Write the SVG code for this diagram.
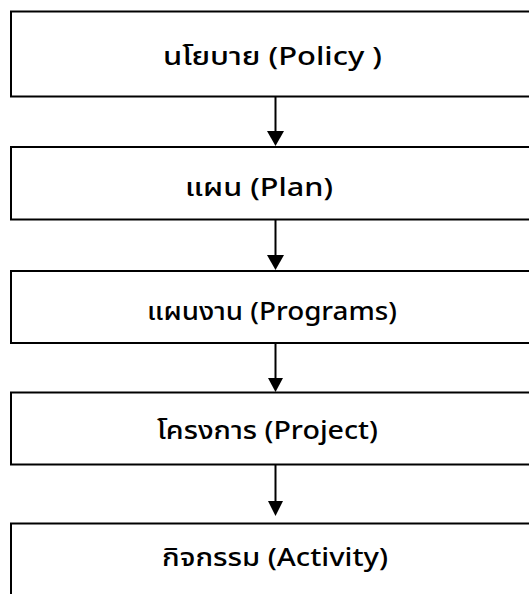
<svg xmlns="http://www.w3.org/2000/svg" width="529" height="594" viewBox="0 0 529 594">
<defs>
<style>
.box{fill:#fff;stroke:#000;stroke-width:2}
.lbl{font-family:"Noto Sans","Noto Sans Thai","DejaVu Sans",sans-serif;font-size:25px;font-weight:500;fill:#000;text-anchor:middle}
.conn{stroke:#000;stroke-width:2;fill:none}
</style>
</defs>
<g id="policy"><rect class="box" x="11" y="11.5" width="530" height="85"/><text class="lbl" x="272.5" y="65" textLength="219" lengthAdjust="spacingAndGlyphs">นโยบาย (Policy )</text></g>
<g id="plan"><rect class="box" x="11" y="147" width="530" height="72.5"/><text class="lbl" x="259" y="196" textLength="148" lengthAdjust="spacingAndGlyphs">แผน (Plan)</text></g>
<g id="programs"><rect class="box" x="11" y="271" width="530" height="72"/><text class="lbl" x="272" y="320" textLength="250" lengthAdjust="spacingAndGlyphs">แผนงาน (Programs)</text></g>
<g id="project"><rect class="box" x="11" y="392.5" width="530" height="72"/><text class="lbl" x="267.5" y="439" textLength="221" lengthAdjust="spacingAndGlyphs">โครงการ (Project)</text></g>
<g id="activity"><rect class="box" x="11" y="523.5" width="530" height="100"/><text class="lbl" x="275" y="566" textLength="226" lengthAdjust="spacingAndGlyphs">กิจกรรม (Activity)</text></g>
<g id="connectors">
<line class="conn" x1="275.5" y1="96.5" x2="275.5" y2="131"/><path d="M267,131 L284,131 L275.5,146 Z"/>
<line class="conn" x1="275.5" y1="219.5" x2="275.5" y2="255"/><path d="M267,255 L284,255 L275.5,270 Z"/>
<line class="conn" x1="275.5" y1="343" x2="275.5" y2="378"/><path d="M268,378 L283,378 L275.5,392 Z"/>
<line class="conn" x1="275.5" y1="464.5" x2="275.5" y2="501"/><path d="M268,501 L283,501 L275.5,516 Z"/>
</g>
</svg>
